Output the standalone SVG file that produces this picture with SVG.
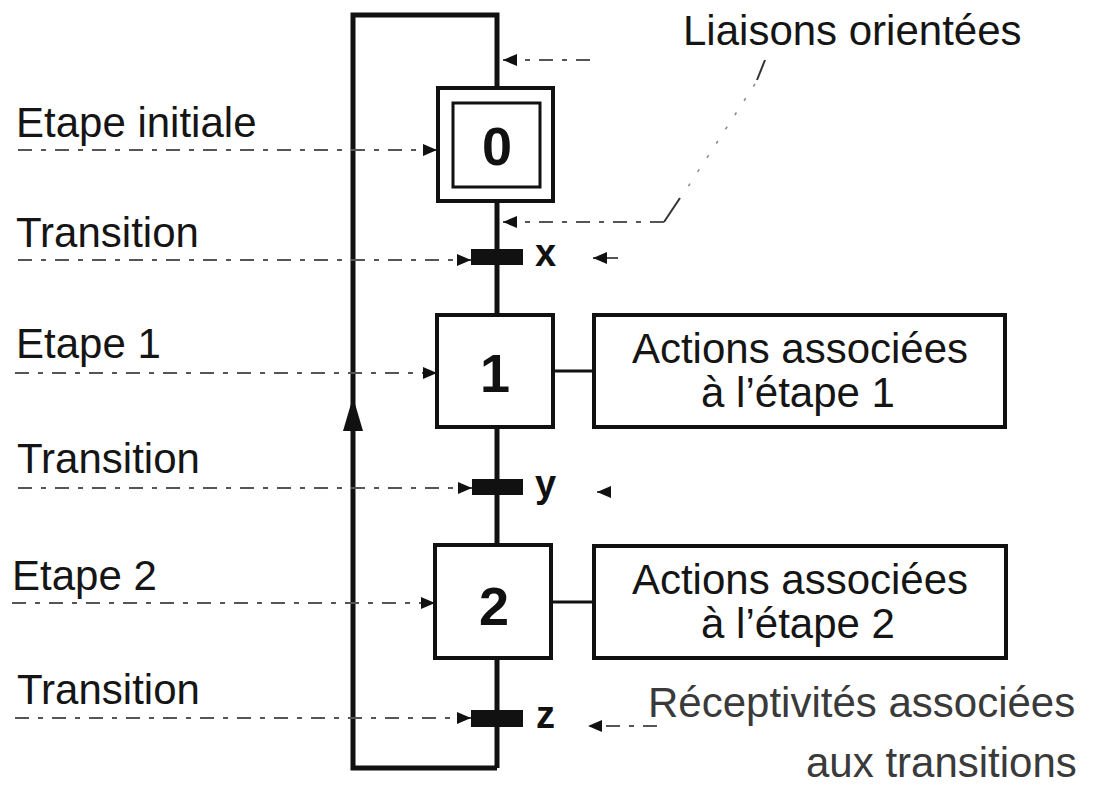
<svg xmlns="http://www.w3.org/2000/svg" width="1093" height="787" viewBox="0 0 1093 787">
  <style>
    .lbl { font-family: "Liberation Sans", Arial, sans-serif; font-size: 42px; fill: #151515; }
    .faint { fill: #3a3a3a; }
    .num { font-family: "Liberation Sans", Arial, sans-serif; font-size: 54px; font-weight: bold; fill: #111; text-anchor: middle; }
    .var { font-family: "Liberation Sans", Arial, sans-serif; font-size: 38px; font-weight: bold; fill: #111; }
    .step { fill: #fff; stroke: #111; stroke-width: 4; }
    .inner { fill: none; stroke: #111; stroke-width: 3; }
    .act { fill: #fff; stroke: #111; stroke-width: 4; }
    .flow { fill: none; stroke: #111; stroke-width: 5; }
    .link { fill: none; stroke: #111; stroke-width: 3; }
    .bar { fill: #111; }
    .dash { fill: none; stroke: #555; stroke-width: 2; stroke-dasharray: 14 9 5 9; }
    .thin { fill: none; stroke: #888; stroke-width: 1.5; stroke-dasharray: 3 14; }
    .slash { fill: none; stroke: #333; stroke-width: 2; }
  </style>
  <defs>
    <marker id="ah" viewBox="0 0 14 12" refX="14" refY="6" markerWidth="14" markerHeight="12" markerUnits="userSpaceOnUse" orient="auto">
      <path d="M0,0 L14,6 L0,12 Z" fill="#111"/>
    </marker>
  </defs>

  <g id="connectors">
    <!-- main flow and return loop -->
    <path class="flow" d="M497,768 V15 H353 V768 H497"/>
    <polygon points="353,397 343,431 363,431" fill="#111"/>
    <!-- links to action boxes -->
    <line class="link" x1="553" y1="371" x2="594" y2="371"/>
    <line class="link" x1="551" y1="602" x2="594" y2="602"/>
    <!-- label pointers from left -->
    <line class="dash" x1="18" y1="150" x2="437" y2="150" marker-end="url(#ah)"/>
    <line class="dash" x1="18" y1="260" x2="471" y2="260" marker-end="url(#ah)"/>
    <line class="dash" x1="15" y1="373" x2="437" y2="373" marker-end="url(#ah)"/>
    <line class="dash" x1="18" y1="488" x2="472" y2="488" marker-end="url(#ah)"/>
    <line class="dash" x1="12" y1="603" x2="435" y2="603" marker-end="url(#ah)"/>
    <line class="dash" x1="15" y1="718" x2="471" y2="718" marker-end="url(#ah)"/>
    <!-- liaisons orientées pointers -->
    <line class="dash" x1="590" y1="60" x2="503" y2="60" marker-end="url(#ah)"/>
    <line class="slash" x1="765" y1="60" x2="757" y2="80"/>
    <line class="thin" x1="755" y1="84" x2="682" y2="196"/>
    <line class="slash" x1="680" y1="198" x2="664" y2="222"/>
    <line class="dash" x1="664" y1="222" x2="503" y2="222" marker-end="url(#ah)"/>
    <!-- receptivity pointers -->
    <line class="dash" x1="618" y1="258" x2="593" y2="258" marker-end="url(#ah)"/>
    <line class="dash" x1="611" y1="492" x2="597" y2="492" marker-end="url(#ah)"/>
    <line class="dash" x1="657" y1="726" x2="588" y2="726" marker-end="url(#ah)"/>
  </g>

  <g id="step0">
    <rect class="step" x="438" y="88" width="115" height="113"/>
    <rect class="inner" x="453" y="103" width="87" height="84"/>
    <text class="num" x="497" y="165">0</text>
  </g>
  <g id="step1">
    <rect class="step" x="437" y="315" width="116" height="112"/>
    <text class="num" x="495" y="392">1</text>
  </g>
  <g id="step2">
    <rect class="step" x="435" y="545" width="116" height="113"/>
    <text class="num" x="494" y="625">2</text>
  </g>
  <g id="actions1">
    <rect class="act" x="594" y="315" width="411" height="112"/>
    <text class="lbl" x="800" y="363" text-anchor="middle">Actions associées</text>
    <text class="lbl" x="798" y="407" text-anchor="middle">à l’étape 1</text>
  </g>
  <g id="actions2">
    <rect class="act" x="594" y="546" width="412" height="112"/>
    <text class="lbl" x="800" y="594" text-anchor="middle">Actions associées</text>
    <text class="lbl" x="798" y="638" text-anchor="middle">à l’étape 2</text>
  </g>
  <g id="transitionX">
    <rect class="bar" x="471" y="249" width="52" height="16"/>
    <text class="var" x="535" y="266">x</text>
  </g>
  <g id="transitionY">
    <rect class="bar" x="472" y="479" width="51" height="16"/>
    <text class="var" x="535" y="497">y</text>
  </g>
  <g id="transitionZ">
    <rect class="bar" x="471" y="710" width="52" height="17"/>
    <text class="var" x="536" y="728">z</text>
  </g>

  <g id="labels">
    <text class="lbl" x="16" y="137">Etape initiale</text>
    <text class="lbl" x="16" y="247">Transition</text>
    <text class="lbl" x="16" y="358">Etape 1</text>
    <text class="lbl" x="17" y="473">Transition</text>
    <text class="lbl" x="12" y="590">Etape 2</text>
    <text class="lbl" x="17" y="704">Transition</text>
    <text class="lbl" x="683" y="45">Liaisons orientées</text>
    <text class="lbl faint" x="648" y="717">Réceptivités associées</text>
    <text class="lbl faint" x="806" y="777">aux transitions</text>
  </g>
</svg>
